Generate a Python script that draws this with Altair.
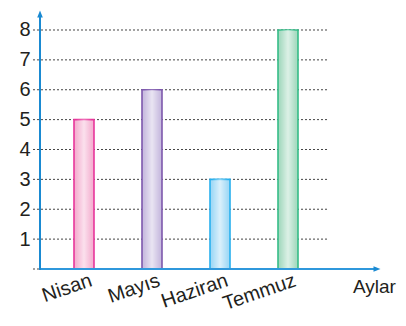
import altair as alt
import pandas as pd

months = ["Nisan", "Mayıs", "Haziran", "Temmuz"]
values = [5, 6, 3, 8]
fill_colors = ["#f5b3d2", "#c9bde0", "#a3daf6", "#a8dbc2"]
stroke_colors = ["#e8369b", "#7d58ad", "#27b0ee", "#35bc88"]
grid_values = [0, 1, 2, 3, 4, 5, 6, 7, 8]
x_title = "Aylar"

bars_df = pd.DataFrame({"month": months, "value": values})
grid_df = pd.DataFrame({"v": grid_values})
one_df = pd.DataFrame({"k": [0]})

W, H = 292, 261
ymax = 8.736
AX = "#1a8ad2"
FONT = "Liberation Sans"
TXT = "#231f20"

xscale = alt.Scale(domain=months, paddingInner=0.706, paddingOuter=0.5)
yscale = alt.Scale(domain=[0, ymax], nice=False, zero=True)

yaxis = alt.Axis(
    values=grid_values[1:], title=None, domain=False, ticks=False, grid=False,
    labelFontSize=20, labelFont=FONT, labelColor=TXT, labelOverlap=False,
    labelPadding=10)
xaxis = alt.Axis(
    title=None, domain=False, ticks=False, grid=False,
    labelAngle=341, labelAlign="right", labelBaseline="top",
    labelFontSize=20, labelFont=FONT, labelColor=TXT, labelOverlap=False,
    labelPadding=1, labelOffset=4)

grid = alt.Chart(grid_df).mark_rule(
    color="#444444", strokeDash=[2, 2], strokeWidth=1
).encode(
    y=alt.Y("v:Q", scale=yscale, axis=yaxis),
    x=alt.value(-7), x2=alt.value(288)
)

bars = alt.Chart(bars_df).mark_bar(strokeWidth=1.6).encode(
    x=alt.X("month:N", scale=xscale, axis=xaxis),
    y=alt.Y("value:Q", scale=yscale, axis=yaxis),
    fill=alt.Color("month:N", scale=alt.Scale(domain=months, range=fill_colors), legend=None),
    stroke=alt.Stroke("month:N", scale=alt.Scale(domain=months, range=stroke_colors), legend=None),
)

shine = alt.Chart(bars_df).mark_bar(
    strokeWidth=0,
    fill={"gradient": "linear", "x1": 0, "x2": 1, "y1": 0, "y2": 0,
          "stops": [{"offset": 0.1, "color": "rgba(255,255,255,0)"},
                    {"offset": 0.5, "color": "rgba(255,255,255,0.6)"},
                    {"offset": 0.9, "color": "rgba(255,255,255,0)"}]}
).encode(
    x=alt.X("month:N", scale=xscale, axis=xaxis),
    y=alt.Y("value:Q", scale=yscale, axis=yaxis),
)

xline = alt.Chart(one_df).mark_rule(color="#2f98dc", strokeWidth=2).encode(
    x=alt.value(0), x2=alt.value(334), y=alt.value(H)
)
yline = alt.Chart(one_df).mark_rule(color=AX, strokeWidth=2).encode(
    x=alt.value(0), y=alt.value(6), y2=alt.value(H + 1)
)
xhead = alt.Chart(one_df).mark_point(
    shape="M-1,-0.8L1,0L-1,0.8Z", filled=True, color="#1a8ad2", opacity=1, size=49
).encode(x=alt.value(337), y=alt.value(H))
yhead = alt.Chart(one_df).mark_point(
    shape="M-0.8,1L0,-1L0.8,1Z", filled=True, color=AX, opacity=1, size=49
).encode(x=alt.value(0), y=alt.value(6))

title = alt.Chart(one_df).mark_text(
    text=x_title, align="left", baseline="alphabetic", fontSize=19,
    font=FONT, fontWeight="normal", color=TXT
).encode(x=alt.value(313), y=alt.value(285))

chart = alt.layer(grid, bars, shine, xline, yline, xhead, yhead, title).properties(
    width=W, height=H,
    autosize=alt.AutoSizeParams(type="none"),
    padding={"left": 32, "top": 0, "right": 66, "bottom": 49},
).configure_view(stroke=None)

chart.save("out.html", embed_options={"renderer": "svg", "actions": False})
